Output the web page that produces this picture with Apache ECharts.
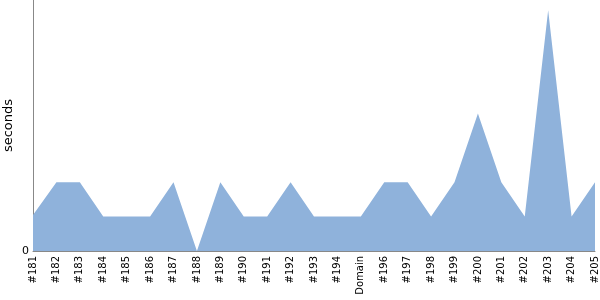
<!DOCTYPE html>
<html>
<head>
<meta charset="utf-8">
<script src="https://cdn.jsdelivr.net/npm/echarts@6/dist/echarts.min.js"></script>
<style>html,body{margin:0;padding:0;background:#fff}#c{width:600px;height:300px}</style>
</head>
<body>
<div id="c"></div>
<script>
var categories = ['#181','#182','#183','#184','#185','#186','#187','#188','#189','#190','#191','#192','#193','#194','Domain','#196','#197','#198','#199','#200','#201','#202','#203','#204','#205'];
var seconds = [1.05,2,2,1,1,1,2,0,2,1,1,2,1,1,1,2,2,1,2,4,2,1,7,1,2];
var yTicks = [0];

var chart = echarts.init(document.getElementById('c'), null, {renderer:'canvas'});
chart.setOption({
  animation:false,
  grid:{left:33,right:5,top:0,bottom:49,containLabel:false,outerBoundsMode:'none'},
  xAxis:{
    type:'category',
    data:categories,
    boundaryGap:false,
    axisLine:{lineStyle:{color:'#888',width:1}},
    axisTick:{show:false},
    axisLabel:{rotate:90,interval:0,color:'#000',fontFamily:'DejaVu Sans',fontSize:10,margin:5}
  },
  yAxis:{
    type:'value',
    min:0,max:7.3,
    name:'seconds',
    nameLocation:'middle',
    nameGap:18,
    nameMoveOverlap:false,
    nameTextStyle:{color:'#000',fontFamily:'DejaVu Sans',fontSize:13},
    axisLine:{show:true,lineStyle:{color:'#888',width:1}},
    axisTick:{show:false},
    splitLine:{show:false},
    axisLabel:{color:'#000',fontFamily:'DejaVu Sans',fontSize:11,margin:4,
      customValues:yTicks,
      formatter:function(v){return yTicks.indexOf(v)>=0?String(v):'';}}
  },
  series:[{
    type:'line',
    data:seconds,
    symbol:'none',
    lineStyle:{width:0,color:'#8fb2db'},
    areaStyle:{color:'#8fb2db',opacity:1}
  }]
});
</script>
</body>
</html>
